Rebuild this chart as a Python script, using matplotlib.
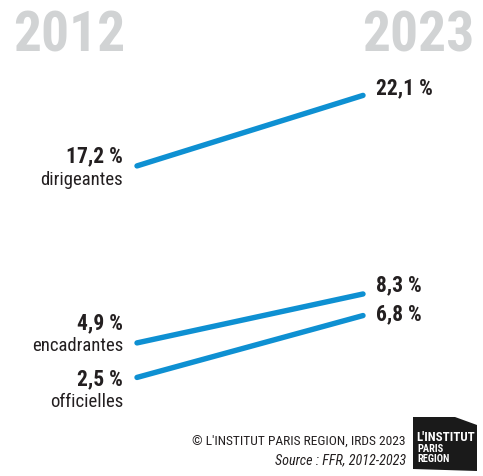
import matplotlib
matplotlib.use("Agg")
import matplotlib.pyplot as plt
from matplotlib.patches import Polygon

plt.rcParams['font.family'] = ['Roboto Condensed', 'Archivo Narrow', 'DejaVu Sans']

years = [2012, 2023]
categories = ["dirigeantes", "encadrantes", "officielles"]
v2012 = [17.2, 4.9, 2.5]
v2023 = [22.1, 8.3, 6.8]
lab2012 = ["17,2 %", "4,9 %", "2,5 %"]
lab2023 = ["22,1 %", "8,3 %", "6,8 %"]

W, H = 483, 477
fig = plt.figure(figsize=(W / 100, H / 100), dpi=100)
fig.patch.set_facecolor("white")

# axes spans the full height, x between the two line ends
ax = fig.add_axes([137 / W, 0, 226 / W, 1])
ax.set_xlim(years[0], years[1])
ax.set_ylim(-4.35, 28.80)
ax.axis("off")

blue = "#0e90d2"
dark = "#231f20"
# label offsets (pixels) from the line ends
off_val_l = [11, 21, -1]
off_cat_l = [-13, -2, -24]
off_val_r = [8, 10, 2]
for i, cat in enumerate(categories):
    ax.plot(years, [v2012[i], v2023[i]], color=blue, lw=3.9,
            solid_capstyle="round", clip_on=False)
    ax.annotate(lab2012[i], (years[0], v2012[i]), xytext=(-14, off_val_l[i]),
                textcoords="offset pixels", ha="right", va="center",
                fontsize=15.5, fontweight="bold", color=dark)
    ax.annotate(cat, (years[0], v2012[i]), xytext=(-14, off_cat_l[i]),
                textcoords="offset pixels", ha="right", va="center",
                fontsize=13.5, color=dark)
    ax.annotate(lab2023[i], (years[1], v2023[i]), xytext=(13, off_val_r[i]),
                textcoords="offset pixels", ha="left", va="center",
                fontsize=15.5, fontweight="bold", color=dark)

# year headers
fig.text(13 / W, 1 - 36 / H, str(years[0]), ha="left", va="center",
         fontsize=40, fontweight="bold", color="#d1d3d4")
fig.text(474 / W, 1 - 36 / H, str(years[1]), ha="right", va="center",
         fontsize=40, fontweight="bold", color="#d1d3d4")

# footer
fig.text(406 / W, 1 - 441 / H, "© L'INSTITUT PARIS REGION, IRDS 2023",
         ha="right", va="center", fontsize=9.7, color=dark)
fig.text(406 / W, 1 - 460 / H, "Source : FFR, 2012-2023",
         ha="right", va="center", fontsize=10.2, style="italic", color=dark)

# logo
pts = [(413, 418), (455, 418), (477, 426), (477, 472), (413, 470)]
fig.patches.append(Polygon([(x / W, 1 - y / H) for x, y in pts], closed=True,
                           transform=fig.transFigure, facecolor="#1a1a1a",
                           edgecolor="none"))
fig.text(416 / W, 1 - 438 / H, "L'INSTITUT", ha="left", va="center",
         fontsize=9.3, fontweight="bold", color="white")
fig.text(417 / W, 1 - 449 / H, "PARIS", ha="left", va="center",
         fontsize=7.5, fontweight="bold", color="white")
fig.text(417 / W, 1 - 459 / H, "REGION", ha="left", va="center",
         fontsize=7.5, fontweight="bold", color="white")

fig.savefig("out.png", dpi=100)
